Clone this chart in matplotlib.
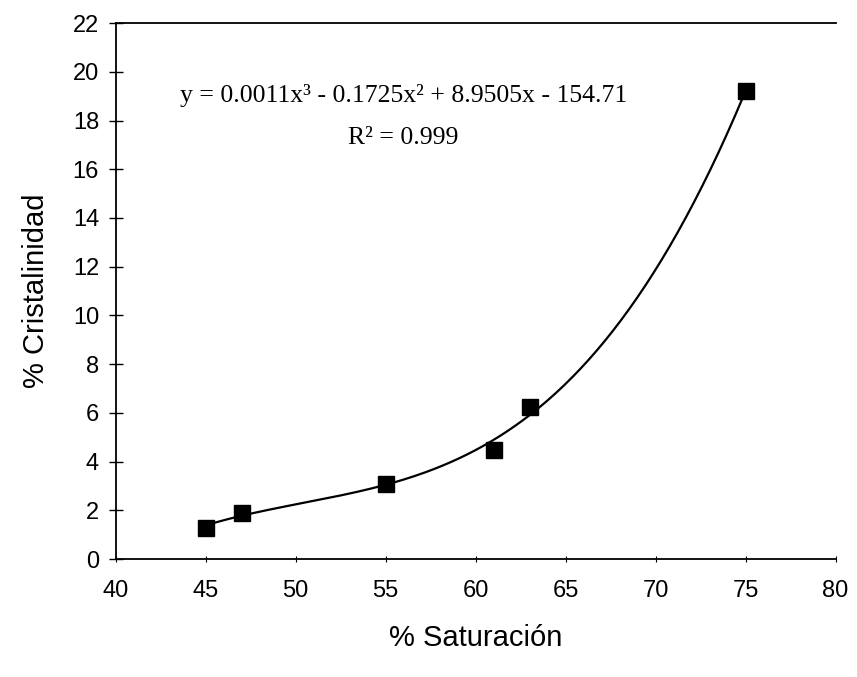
import numpy as np
import matplotlib.pyplot as plt

saturacion = [45, 47, 55, 61, 63, 75]
cristalinidad = [1.3, 1.9, 3.1, 4.5, 6.25, 19.2]
x_ticks = [40, 45, 50, 55, 60, 65, 70, 75, 80]
y_ticks = [0, 2, 4, 6, 8, 10, 12, 14, 16, 18, 20, 22]

fig = plt.figure(figsize=(8.57, 6.77), dpi=100)
ax = fig.add_axes([0.135, 0.174, 0.84, 0.792])

# cubic trendline through the points
coef = np.polyfit(saturacion, cristalinidad, 3)
xs = np.linspace(min(saturacion), max(saturacion), 200)
ax.plot(xs, np.polyval(coef, xs), color='black', lw=1.6)
ax.plot(saturacion, cristalinidad, 's', color='black', markersize=11)

ax.set_xlim(40, 80)
ax.set_ylim(0, 22)
ax.set_xticks(x_ticks)
ax.set_yticks(y_ticks)
ax.spines['right'].set_visible(False)
for s in ['left', 'top', 'bottom']:
    ax.spines[s].set_linewidth(1.3)
ax.tick_params(axis='y', direction='inout', length=10, width=1, labelsize=17, pad=7)
ax.tick_params(axis='x', direction='inout', length=4, width=0.8, labelsize=17, pad=13)
for lab in ax.get_xticklabels() + ax.get_yticklabels():
    lab.set_family('Liberation Sans')

ax.set_xlabel('% Saturación', fontsize=21, family='Liberation Sans', labelpad=16)
ax.set_ylabel('% Cristalinidad', fontsize=21, family='Liberation Sans', labelpad=16)

ax.text(0.40, 0.865, 'y = 0.0011x³ - 0.1725x² + 8.9505x - 154.71',
        transform=ax.transAxes, ha='center', va='center', fontsize=18.5,
        family='Liberation Serif')
ax.text(0.40, 0.785, 'R² = 0.999', transform=ax.transAxes,
        ha='center', va='center', fontsize=18.5, family='Liberation Serif')

fig.savefig('out.png', dpi=100)
